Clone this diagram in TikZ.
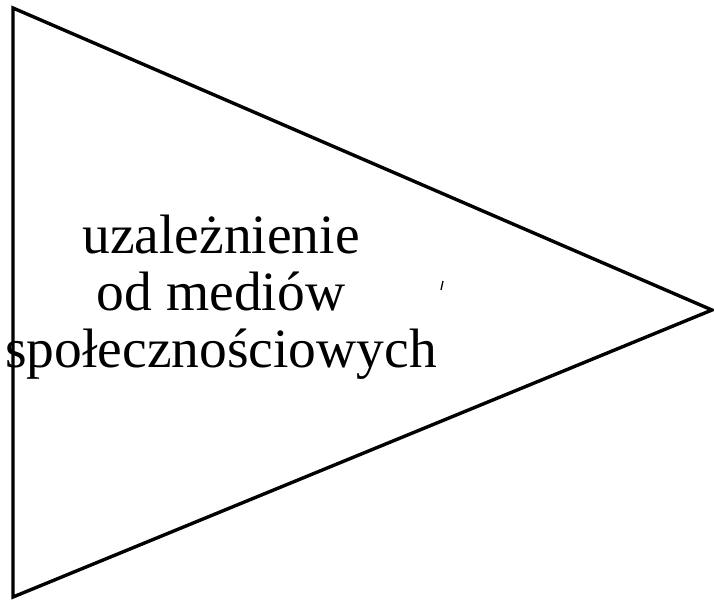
\documentclass[tikz,border=0pt]{standalone}
\usepackage{fontspec}
\setmainfont{Liberation Serif}
\newcommand{\wedgebox}[3]{\draw[line width=3.4pt,line join=miter] (#1) -- (#3) -- (#2) -- cycle}

\begin{document}
\begin{tikzpicture}[x=1pt,y=-1pt]
	\useasboundingbox (0,0) rectangle (714,600);
		\coordinate (top) at (13,8);
		\coordinate (bottom) at (13,597);
		\coordinate (tip) at (712,310);
			\wedgebox{top}{bottom}{tip};
			\node[align=center,inner sep=0pt,font=\fontsize{55.5}{57}\selectfont] (label) at (221,297)
				{uzależnienie\\od mediów\\społecznościowych};
			\draw[line width=1.3pt] (443,281) -- (441,290);
	\end{tikzpicture}
\end{document}
